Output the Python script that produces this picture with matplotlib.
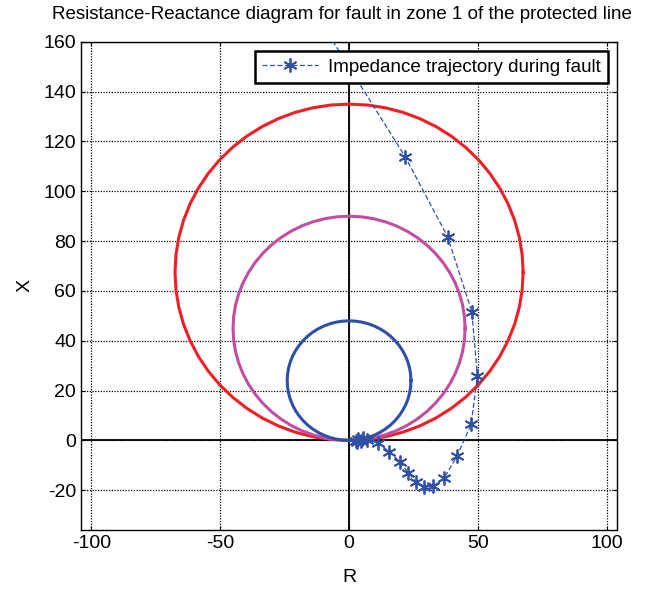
import numpy as np
import matplotlib.pyplot as plt

plt.rcParams['font.family'] = ['Liberation Sans', 'DejaVu Sans']
plt.rcParams['axes.unicode_minus'] = False

# mho circle radii (each passes through the origin)
zone_radius = [67.5, 45.0, 24.0]
zone_color = ['#f01f26', '#c04fa0', '#2f4fa6']

# impedance trajectory during fault (R, X)
traj_r = [-11.0, 21.8, 38.2, 47.6, 49.8, 47.3, 41.8, 37.0, 32.5, 29.2, 26.0,
          23.0, 19.8, 15.6, 11.3, 6.8, 5.5, 4.5, 3.5, 3.0, 2.5]
traj_x = [168.0, 113.8, 81.8, 51.7, 25.8, 6.4, -6.4, -14.9, -18.4, -18.8, -16.7,
          -13.0, -8.6, -4.6, -1.0, 0.3, 0.8, -0.3, 0.5, -0.8, -0.2]

fig = plt.figure(figsize=(6.63, 5.89), dpi=100)
ax = fig.add_axes([0.122, 0.100, 0.809, 0.829])

th = np.linspace(0, 2 * np.pi, 61)
for r, c in zip(zone_radius, zone_color):
    ax.plot(r * np.cos(th), r + r * np.sin(th), color=c, lw=2.2, zorder=3)

ax.plot(traj_r, traj_x, color='#3050a8', ls=(0, (4, 2)), lw=0.9,
        marker=(6, 2, 0), ms=10, mew=1.3, zorder=4,
        label='Impedance trajectory during fault')

ax.axhline(0, color='black', lw=1.3, zorder=2)
ax.axvline(0, color='black', lw=1.3, zorder=2)

ax.set_xlim(-104, 104)
ax.set_ylim(-36, 160)
ax.set_xticks([-100, -50, 0, 50, 100])
ax.set_yticks(np.arange(-20, 161, 20))
ax.grid(True, color='black', ls=(0, (1, 1.2)), lw=0.9)
ax.tick_params(labelsize=14, direction='in', length=3, top=True, right=True)
for s in ax.spines.values():
    s.set_linewidth(1.0)

ax.set_xlabel('R', fontsize=14, labelpad=12)
ax.set_ylabel('X', fontsize=14, labelpad=7)
fig.text(0.516, 1 - 19 / 589, 'Resistance-Reactance diagram for fault in zone 1 of the protected line',
         fontsize=13.5, ha='center', va='baseline')

leg = ax.legend(loc='upper right', fontsize=13.5, fancybox=False, framealpha=1,
                edgecolor='black', borderaxespad=0.5, handlelength=3.0,
                borderpad=0.4, handletextpad=0.5)
leg.get_frame().set_linewidth(1.8)

fig.savefig('out.png', dpi=100)
